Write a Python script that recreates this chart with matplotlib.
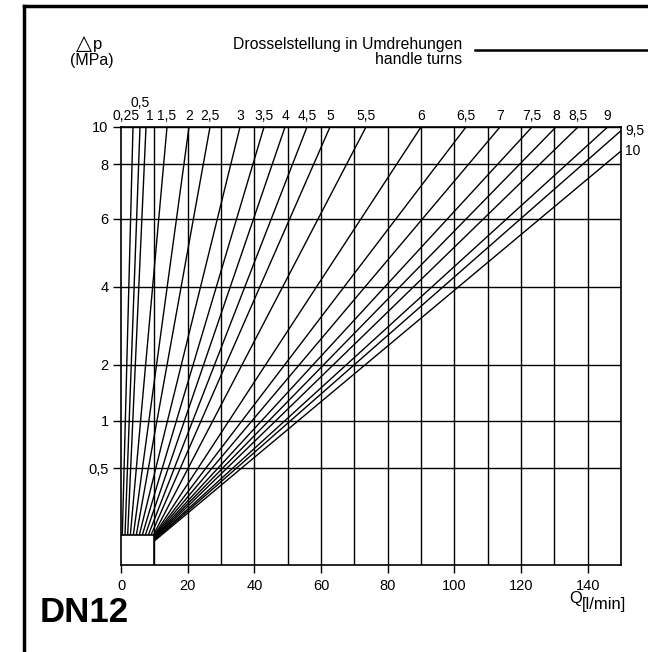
import numpy as np
import matplotlib
matplotlib.use("Agg")
import matplotlib.pyplot as plt
from matplotlib.lines import Line2D
from matplotlib.patches import Rectangle

plt.rcParams['font.family'] = ['Liberation Sans', 'DejaVu Sans']

# ---- data ----
turns = ["0,25", "0,5", "1", "1,5", "2", "2,5", "3", "3,5", "4", "4,5", "5",
         "5,5", "6", "6,5", "7", "7,5", "8", "8,5", "9", "9,5", "10"]
q_end = [3.6, 5.7, 7.5, 13.8, 20.4, 26.7, 35.7, 42.9, 49.2, 55.8, 62.7,
         73.5, 90.0, 103.5, 113.7, 123.3, 130.5, 137.1, 146.0, 150.0, 150.0]
p_end = [10, 10, 10, 10, 10, 10, 10, 10, 10, 10, 10,
         10, 10, 10, 10, 10, 10, 10, 10, 9.8, 8.7]
q_start = [0.4, 1.2, 2.0, 2.8, 3.7, 4.6, 5.5, 6.4, 7.3, 8.2, 9.0,
           9.7, 10, 10, 10, 10, 10, 10, 10, 10, 10]
p_start = [0.2] * 12 + [0.2, 0.195, 0.19, 0.185, 0.18, 0.175, 0.17, 0.165, 0.16]

x_ticks = [0, 20, 40, 60, 80, 100, 120, 140]
y_ticks = [0.5, 1, 2, 4, 6, 8, 10]
y_ticklabels = ["0,5", "1", "2", "4", "6", "8", "10"]
box_q = 10
box_p = 0.2

# nonlinear pressure axis (anchor table)
P_ANCHOR = np.array([0, 0.2, 0.5, 1, 2, 4, 6, 8, 10])
U_ANCHOR = (565 - np.array([565, 535, 468, 421, 365, 287, 219, 164, 127])) / 438.0


def fwd(p):
    return np.interp(p, P_ANCHOR, U_ANCHOR)


def inv(u):
    return np.interp(u, U_ANCHOR, P_ANCHOR)


W, H = 648, 652
fig = plt.figure(figsize=(W / 100, H / 100), dpi=100)
ax = fig.add_axes([121 / W, 1 - 565 / H, 500 / W, 438 / H])
ax.set_yscale('function', functions=(fwd, inv))
ax.set_xlim(0, 150)
ax.set_ylim(0, 10)

# grid
for q in range(10, 150, 10):
    ax.axvline(q, color='black', lw=1.0, zorder=1)
for p in y_ticks:
    ax.axhline(p, color='black', lw=1.0, zorder=1)

# characteristic lines
for qs, ps, qe, pe in zip(q_start, p_start, q_end, p_end):
    ax.plot([qs, qe], [ps, pe], color='black', lw=1.0, zorder=2,
            solid_capstyle='butt', clip_on=False)

ax.add_patch(Rectangle((0, 0), box_q, box_p, facecolor='white',
                       edgecolor='black', lw=1.2, zorder=3))

# line labels
label_dx = {"0,25": -5, "1": 3}
for lab, qe, pe in zip(turns, q_end, p_end):
    dx = label_dx.get(lab, 0)
    if lab == "0,5":
        ax.annotate(lab, (qe, 10), xytext=(0, 12), textcoords='offset points',
                    ha='center', va='bottom', fontsize=10)
    elif pe >= 10:
        ax.annotate(lab, (qe, 10), xytext=(dx, 3), textcoords='offset points',
                    ha='center', va='bottom', fontsize=10)
    else:
        ax.annotate(lab, (150, pe), xytext=(3, 0), textcoords='offset points',
                    ha='left', va='center', fontsize=10)

ax.set_xticks(x_ticks)
ax.set_xticklabels([str(v) for v in x_ticks])
ax.set_yticks(y_ticks)
ax.set_yticklabels(y_ticklabels)
ax.minorticks_off()
ax.tick_params(axis='both', direction='out', length=6, width=1.0,
               labelsize=10.5, colors='black')
ax.tick_params(axis='x', pad=4)
ax.tick_params(axis='y', pad=3)
for s in ax.spines.values():
    s.set_linewidth(1.2)
    s.set_color('black')

# texts
fig.text(84 / W, 1 - 43 / H, "△", ha='center', va='center', fontsize=15,
         family=['DejaVu Sans'])
fig.text(93 / W, 1 - 44 / H, "p", ha='left', va='center', fontsize=12)
fig.text(92 / W, 1 - 60 / H, "(MPa)", ha='center', va='center', fontsize=11.5)
fig.text(462 / W, 1 - 44 / H, "Drosselstellung in Umdrehungen", ha='right',
         va='center', fontsize=11.3)
fig.text(462 / W, 1 - 59 / H, "handle turns", ha='right', va='center',
         fontsize=11.3)
fig.add_artist(Line2D([475 / W, 1.0], [1 - 50 / H, 1 - 50 / H], color='black',
                      lw=1.8, transform=fig.transFigure))

# axis title Q with subscript unit
sub = fig.text(626 / W, 1 - 605 / H, "[l/min]", ha='right', va='center',
               fontsize=12)
fig.canvas.draw()
bb = sub.get_window_extent(fig.canvas.get_renderer())
fig.text(bb.x0 / W, 1 - 599 / H, "Q", ha='right', va='center', fontsize=12)

fig.text(40 / W, 1 - 613 / H, "DN12", ha='left', va='center', fontsize=25,
         fontweight='bold')

# frame
fig.add_artist(Line2D([24 / W, 24 / W], [0, 1 - 6 / H], color='black', lw=2.5,
                      transform=fig.transFigure, solid_capstyle='projecting'))
fig.add_artist(Line2D([24 / W, 1.0], [1 - 6 / H, 1 - 6 / H], color='black', lw=2.5,
                      transform=fig.transFigure, solid_capstyle='projecting'))

fig.savefig("out.png", dpi=100)
